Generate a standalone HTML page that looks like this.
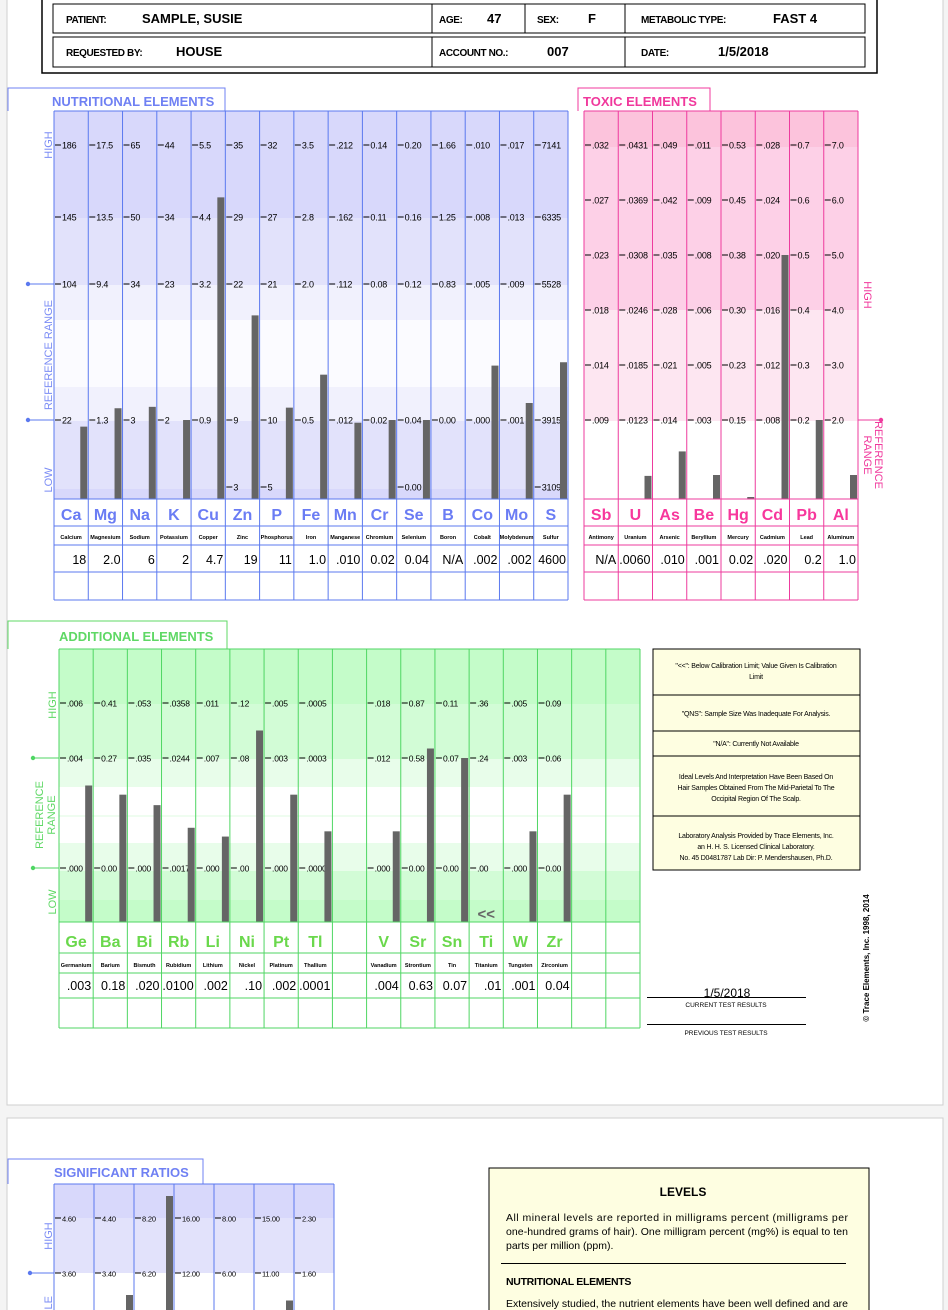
<!DOCTYPE html>
<html><head><meta charset="utf-8"><style>
html,body{margin:0;padding:0;background:#f4f4f4;width:948px;height:1310px;overflow:hidden}
svg{display:block;font-family:"Liberation Sans",Arial,sans-serif;overflow:hidden}
</style></head><body>
<svg id="root" width="948" height="1310" viewBox="0 0 948 1310" xmlns="http://www.w3.org/2000/svg"></svg>
<script>
// ---------- DATA ----------
const nutSymbols=['Ca','Mg','Na','K','Cu','Zn','P','Fe','Mn','Cr','Se','B','Co','Mo','S'];
const nutNames=['Calcium','Magnesium','Sodium','Potassium','Copper','Zinc','Phosphorus','Iron','Manganese','Chromium','Selenium','Boron','Cobalt','Molybdenum','Sulfur'];
const nutValues=[18,2.0,6,2,4.7,19,11,1.0,.010,.02,.04,null,.002,.002,4600];
const nutPrinted=['18','2.0','6','2','4.7','19','11','1.0','.010','0.02','0.04','N/A','.002','.002','4600'];
const nutTickHigh=['186','17.5','65','44','5.5','35','32','3.5','.212','0.14','0.20','1.66','.010','.017','7141'];
const nutTickUpper=['145','13.5','50','34','4.4','29','27','2.8','.162','0.11','0.16','1.25','.008','.013','6335'];
const nutTickRefHigh=['104','9.4','34','23','3.2','22','21','2.0','.112','0.08','0.12','0.83','.005','.009','5528'];
const nutTickRefLow=['22','1.3','3','2','0.9','9','10','0.5','.012','0.02','0.04','0.00','.000','.001','3915'];
const nutTickLow=['','','','','','3','5','','','','0.00','','','','3109'];

const toxSymbols=['Sb','U','As','Be','Hg','Cd','Pb','Al'];
const toxNames=['Antimony','Uranium','Arsenic','Beryllium','Mercury','Cadmium','Lead','Aluminum'];
const toxValues=[null,.0060,.010,.001,.02,.020,0.2,1.0];
const toxPrinted=['N/A','.0060','.010','.001','0.02','.020','0.2','1.0'];
const toxTick1=['.032','.0431','.049','.011','0.53','.028','0.7','7.0'];
const toxTick2=['.027','.0369','.042','.009','0.45','.024','0.6','6.0'];
const toxTick3=['.023','.0308','.035','.008','0.38','.020','0.5','5.0'];
const toxTick4=['.018','.0246','.028','.006','0.30','.016','0.4','4.0'];
const toxTick5=['.014','.0185','.021','.005','0.23','.012','0.3','3.0'];
const toxTick6=['.009','.0123','.014','.003','0.15','.008','0.2','2.0'];

const addSymbols=['Ge','Ba','Bi','Rb','Li','Ni','Pt','Tl','','V','Sr','Sn','Ti','W','Zr','',''];
const addNames=['Germanium','Barium','Bismuth','Rubidium','Lithium','Nickel','Platinum','Thallium','','Vanadium','Strontium','Tin','Titanium','Tungsten','Zirconium','',''];
const addValues=[.003,.18,.020,.0100,.002,.10,.002,.0001,null,.004,.63,.07,null,.001,.04,null,null];
const addPrinted=['.003','0.18','.020','.0100','.002','.10','.002','.0001','','.004','0.63','0.07','.01','.001','0.04','',''];
const addBelowLimit=[false,false,false,false,false,false,false,false,false,false,false,false,true,false,false,false,false];
const addTickHigh=['.006','0.41','.053','.0358','.011','.12','.005','.0005','','.018','0.87','0.11','.36','.005','0.09','',''];
const addTickRef=['.004','0.27','.035','.0244','.007','.08','.003','.0003','','.012','0.58','0.07','.24','.003','0.06','',''];
const addTickLow=['.000','0.00','.000','.0017','.000','.00','.000','.0000','','.000','0.00','0.00','.00','.000','0.00','',''];

const ratioNames=['ca-p','na-k','ca-k','zn-cu','na-mg','ca-mg','fe-cu'];
const ratioValues=[1.64,3.00,9.00,4.04,3.00,9.00,0.21];
const ratioTickHigh=['4.60','4.40','8.20','16.00','8.00','15.00','2.30'];
const ratioTickRef=['3.60','3.40','6.20','12.00','6.00','11.00','1.60'];

// ---------- RENDER ----------
const NS='http://www.w3.org/2000/svg';
const svg=document.getElementById('root');
function mk(tag,attrs,parent,text){const e=document.createElementNS(NS,tag);for(const k in attrs)e.setAttribute(k,attrs[k]);if(text!=null)e.textContent=text;(parent||svg).appendChild(e);return e;}

let p=mk('rect',{x:7,y:-1,width:936,height:1106,fill:'#fff',stroke:'#cfcfcf'});


p=mk('rect',{x:7,y:1118,width:936,height:300,fill:'#fff',stroke:'#cfcfcf'});



// header
let hg=mk('g',{});


mk('rect',{x:42,y:-2,width:835,height:75,fill:'none',stroke:'#000','stroke-width':1.5},hg);
mk('rect',{x:53,y:4,width:812,height:29,fill:'none',stroke:'#000'},hg);
mk('rect',{x:53,y:37,width:812,height:30,fill:'none',stroke:'#000'},hg);
[[432,4,33],[525,4,33],[625,4,33],[432,37,67],[625,37,67]].forEach(d=>mk('line',{x1:d[0],y1:d[1],x2:d[0],y2:d[2],stroke:'#000'},hg));
const hdr=[['PATIENT:',66,23,10,'patient-label'],['SAMPLE, SUSIE',142,23,13,'patient-name'],['AGE:',439,23,10,'age-label'],['47',487,23,13,'age-value'],['SEX:',537,23,10,'sex-label'],['F',588,23,13,'sex-value'],['METABOLIC TYPE:',641,23,10,'metabolic-type-label'],['FAST 4',773,23,13,'metabolic-type-value'],
['REQUESTED BY:',66,56,10,'requested-by-label'],['HOUSE',176,56,13,'requested-by-value'],['ACCOUNT NO.:',439,56,10,'account-label'],['007',547,56,13,'account-value'],['DATE:',641,56,10,'date-label'],['1/5/2018',718,56,13,'date-value']];
hdr.forEach(h=>{const t=mk('text',{x:h[1],y:h[2],'font-size':h[3],'font-weight':'bold',fill:'#000','letter-spacing':h[3]==10?'-0.4':'0'},hg,h[0]);

});

function tab(x0,y0,x1,y1,color,label,tx,ty,name){
  const g=mk('g',{});
  
  
  mk('polyline',{points:`${x0},${y1} ${x0},${y0} ${x1},${y0} ${x1},${y1}`,fill:'none',stroke:color,'stroke-width':1},g);
  mk('text',{x:tx,y:ty,'font-size':13,'font-weight':'bold',fill:color,'xml:space':'preserve'},g,label);
}
function scaleFor(vals,ys){
  return function(v){
    let i=0;
    if(v<=vals[0]) i=0; else if(v>=vals[vals.length-1]) i=vals.length-2;
    else {while(v>vals[i+1]) i++;}
    const t=(v-vals[i])/(vals[i+1]-vals[i]);
    return ys[i]+t*(ys[i+1]-ys[i]);
  };
}
function rotText(x,y,ang,str,color,size,parent,anchor,name){
  const t=mk('text',{x:0,y:0,transform:`translate(${x},${y}) rotate(${ang})`,'font-size':size,fill:color,'text-anchor':anchor||'middle'},parent,str);
  
  
  return t;
}

function drawChart(c){
  const g=mk('g',{});
  
  
  const W=c.x1-c.x0, n=c.values.length, cw=W/n;
  const symbols=c.symbols||[], names=c.names||[], printed=c.printed||[];
  c.bands.forEach(b=>mk('rect',{x:c.x0,y:b[0],width:W,height:b[1]-b[0],fill:b[2]},g));
  for(let i=0;i<n;i++){
    const lx=c.x0+i*cw;
    c.tickRows.forEach((row,r)=>{
      const s=row[i]; if(!s) return;
      const y=c.tickYs[r];
      mk('line',{x1:lx+1,y1:y,x2:lx+7,y2:y,stroke:'#000','stroke-width':1},g);
      const t=mk('text',{x:lx+8,y:y+3.3,'font-size':c.tickSize,fill:'#000','letter-spacing':'-0.2'},g,s);
      
      
    });
  }
  for(let i=0;i<n;i++){
    const v=c.values[i]; if(v==null) continue;
    const pairs=[];
    c.tickRows.forEach((row,r)=>{if(row[i]!=='' && row[i]!=null) pairs.push([parseFloat(row[i]),c.tickYs[r]]);});
    pairs.sort((a,b)=>a[0]-b[0]);
    const sc=scaleFor(pairs.map(q=>q[0]),pairs.map(q=>q[1]));
    let y=sc(v); y=Math.max(c.top,Math.min(c.bottom-2,y));
    const rx=c.x0+(i+1)*cw;
    const b=mk('rect',{x:rx-c.barW-1,y:y,width:c.barW,height:c.bottom-y,fill:'#656565'},g);
    
    
  }
  if(c.below){for(let i=0;i<n;i++){if(c.below[i]){const t=mk('text',{x:c.x0+(i+0.5)*cw,y:c.bottom-3,'font-size':15,'font-weight':'bold',fill:'#666','text-anchor':'middle'},g,'<<');
    
    }}}
  const r=c.rows;
  if(r.length>=4){
  for(let i=0;i<n;i++){
    const cx=c.x0+(i+0.5)*cw, rx=c.x0+(i+1)*cw;
    if(symbols[i]){const s=mk('text',{x:cx,y:r[1]-6,'font-size':16,'font-weight':'bold',fill:c.symColor,'text-anchor':'middle'},g,symbols[i]);
      
      }
    if(names[i]){const s=mk('text',{x:cx,y:r[2]-6,'font-size':5.5,fill:'#000','text-anchor':'middle','font-weight':'bold'},g,names[i]);
      
      }
    if(printed[i]){const s=mk('text',{x:rx-2,y:r[3]-8,'font-size':12.5,fill:'#000','text-anchor':'end'},g,printed[i]);
      
      }
  }}
  for(let i=0;i<=n;i++){const x=c.x0+i*cw;mk('line',{x1:x,y1:c.top,x2:x,y2:r[r.length-1],stroke:c.line,'stroke-width':1},g);}
  mk('line',{x1:c.x0,y1:c.top,x2:c.x1,y2:c.top,stroke:c.line},g);
  r.forEach(y=>mk('line',{x1:c.x0,y1:y,x2:c.x1,y2:y,stroke:c.line},g));
  return g;
}
function marker(x0,x1,y,dotX,color){
  const g=mk('g',{});
  
  
  mk('line',{x1:x0,y1:y,x2:x1,y2:y,stroke:color},g);
  mk('circle',{cx:dotX,cy:y,r:2.2,fill:color},g);
}

// NUTRITIONAL
tab(8,88,225,111,'#6f80f3','NUTRITIONAL  ELEMENTS',52,106,'nutritional-title');
const nutG=drawChart({name:'nutritional-elements-chart',x0:54,x1:568,top:111,bottom:499,rows:[499,526,545,572,600],
  bands:[[111,218,'#d8d8fb'],[218,285,'#e2e2fb'],[285,320,'#f1f1fd'],[320,387,'#fbfbff'],[387,421,'#f1f1fd'],[421,489,'#e2e2fb'],[489,499,'#d8d8fb']],
  tickRows:[nutTickHigh,nutTickUpper,nutTickRefHigh,nutTickRefLow,nutTickLow],tickYs:[145,217,284,420,487],tickSize:9,
  symbols:nutSymbols,names:nutNames,values:nutValues,printed:nutPrinted,barW:7,line:'#5b79ef',symColor:'#6a7cf4'});
marker(28,54,284,28,'#5b79ef');marker(28,54,420,28,'#5b79ef');
rotText(52,145,-90,'HIGH','#7b8cf5',11,nutG,'middle','high-label');
rotText(52,355,-90,'REFERENCE  RANGE','#7b8cf5',11,nutG,'middle','reference-range-label');
rotText(52,480,-90,'LOW','#7b8cf5',11,nutG,'middle','low-label');

// TOXIC
tab(578,88,710,111,'#f0389c','TOXIC  ELEMENTS',583,106,'toxic-title');
const toxG=drawChart({name:'toxic-elements-chart',x0:584,x1:858,top:111,bottom:499,rows:[499,526,545,572,600],
  bands:[[111,147,'#fcc3dc'],[147,310,'#fdd0e7'],[310,421,'#fde6f1'],[421,499,'#ffffff']],
  tickRows:[toxTick1,toxTick2,toxTick3,toxTick4,toxTick5,toxTick6],tickYs:[145,200,255,310,365,420],tickSize:9,
  symbols:toxSymbols,names:toxNames,values:toxValues,printed:toxPrinted,barW:7,line:'#ee3b9e',symColor:'#f7379c'});
marker(858,881,420,881,'#ee3b9e');
rotText(864,295,90,'HIGH','#f0389c',11,toxG,'middle','high-label');
rotText(875,455,90,'REFERENCE','#f0389c',11,toxG,'middle','reference-label');
rotText(864,455,90,'RANGE','#f0389c',11,toxG,'middle','range-label');

// ADDITIONAL
tab(8,621,227,649,'#5fd865','ADDITIONAL  ELEMENTS',59,641,'additional-title');
const addG=drawChart({name:'additional-elements-chart',x0:59,x1:640,top:649,bottom:922,rows:[922,953,973,998,1028],
  bands:[[649,704,'#c4fcc9'],[704,759,'#d2fcd6'],[759,787,'#e8fdea'],[787,815,'#ffffff'],[815,817,'#effdf0'],[817,843,'#ffffff'],[843,871,'#e8fdea'],[871,900,'#d2fcd6'],[900,922,'#c4fcc9']],
  tickRows:[addTickHigh,addTickRef,addTickLow],tickYs:[703,758,868],tickSize:8.5,
  symbols:addSymbols,names:addNames,values:addValues,printed:addPrinted,below:addBelowLimit,barW:7,line:'#4fd663',symColor:'#6ad84c'});
marker(33,59,758,33,'#4fd663');marker(33,59,868,33,'#4fd663');
rotText(56,705,-90,'HIGH','#5fd865',11,addG,'middle','high-label');
rotText(43,815,-90,'REFERENCE','#5fd865',11,addG,'middle','reference-label');
rotText(55,815,-90,'RANGE','#5fd865',11,addG,'middle','range-label');
rotText(56,902,-90,'LOW','#5fd865',11,addG,'middle','low-label');

// legend box
const lg=mk('g',{});


mk('rect',{x:653,y:649,width:207,height:221,fill:'#fefee1',stroke:'#000'},lg);
[695,731,756,816].forEach(y=>mk('line',{x1:653,y1:y,x2:860,y2:y,stroke:'#000'},lg));
const notes=[[668,'"<<": Below Calibration Limit; Value Given Is Calibration'],[679,'Limit'],[716,'"QNS": Sample Size Was Inadequate For Analysis.'],[746,'"N/A": Currently Not Available'],[779,'Ideal Levels And Interpretation Have Been Based On'],[790,'Hair Samples Obtained From The Mid-Parietal To The'],[801,'Occipital Region Of The Scalp.'],[838,'Laboratory Analysis Provided by Trace Elements, Inc.'],[849,'an H. H. S. Licensed Clinical Laboratory.'],[860,'No. 45 D0481787  Lab Dir: P. Mendershausen, Ph.D.']];
notes.forEach(n=>{const t=mk('text',{x:756,y:n[0],'font-size':7,'text-anchor':'middle',fill:'#000','xml:space':'preserve','letter-spacing':'-0.2'},lg,n[1]);

});

// results key
const rk=mk('g',{});


let t=mk('text',{x:727,y:997,'font-size':12,'text-anchor':'middle',fill:'#000'},rk,'1/5/2018');


mk('line',{x1:647,y1:997.5,x2:806,y2:997.5,stroke:'#000'},rk);
mk('line',{x1:647,y1:1024.5,x2:806,y2:1024.5,stroke:'#000'},rk);
t=mk('text',{x:726,y:1007,'font-size':6.5,'text-anchor':'middle',fill:'#000'},rk,'CURRENT TEST RESULTS');


t=mk('text',{x:726,y:1035,'font-size':6.5,'text-anchor':'middle',fill:'#000'},rk,'PREVIOUS TEST RESULTS');


const cp=rotText(869,958,-90,'© Trace Elements, Inc. 1998, 2014','#000',8,rk,'middle','copyright');
cp.setAttribute('font-weight','bold');

// SIGNIFICANT RATIOS
tab(8,1159,203,1184,'#6f80f3','SIGNIFICANT RATIOS',54,1177,'significant-ratios-title');
const ratG=drawChart({name:'significant-ratios-chart',x0:54,x1:334,top:1184,bottom:1320,rows:[1320],
  bands:[[1184,1218,'#d8d8fb'],[1218,1273,'#e2e2fb'],[1273,1320,'#ffffff']],
  tickRows:[ratioTickHigh,ratioTickRef],tickYs:[1218,1273],tickSize:7.5,
  barKeys:ratioNames,values:ratioValues,barW:7,line:'#5b79ef',symColor:'#6a7cf4'});
marker(30,54,1273,30,'#5b79ef');
rotText(52,1236,-90,'HIGH','#7b8cf5',11,ratG,'middle','high-label');
rotText(52,1296,-90,'ACCEPTABLE','#7b8cf5',11,ratG,'end','acceptable-label');

// LEVELS box
const lv=mk('g',{});


mk('rect',{x:489,y:1168,width:380,height:200,fill:'#fefee1',stroke:'#000'},lv);
t=mk('text',{x:683,y:1196,'font-size':12,'font-weight':'bold','text-anchor':'middle',fill:'#000'},lv,'LEVELS');


[[1221,'All mineral levels are reported in milligrams percent (milligrams per'],[1235,'one-hundred grams of hair). One milligram percent (mg%) is equal to ten'],[1249,'parts per million (ppm).']].forEach((l,i)=>{
  const a={x:506,y:l[0],'font-size':10.5,fill:'#000'};if(i<2){a.textLength=342;a.lengthAdjust='spacing';}
  const tt=mk('text',a,lv,l[1]);
  
  });
mk('line',{x1:501,y1:1263.5,x2:846,y2:1263.5,stroke:'#000'},lv);
t=mk('text',{x:506,y:1285,'font-size':10.5,'font-weight':'bold',fill:'#000','letter-spacing':'-0.3'},lv,'NUTRITIONAL ELEMENTS');


t=mk('text',{x:506,y:1307,'font-size':10.5,fill:'#000',textLength:342,lengthAdjust:'spacing'},lv,'Extensively studied, the nutrient elements have been well defined and are');


</script>
</body></html>
